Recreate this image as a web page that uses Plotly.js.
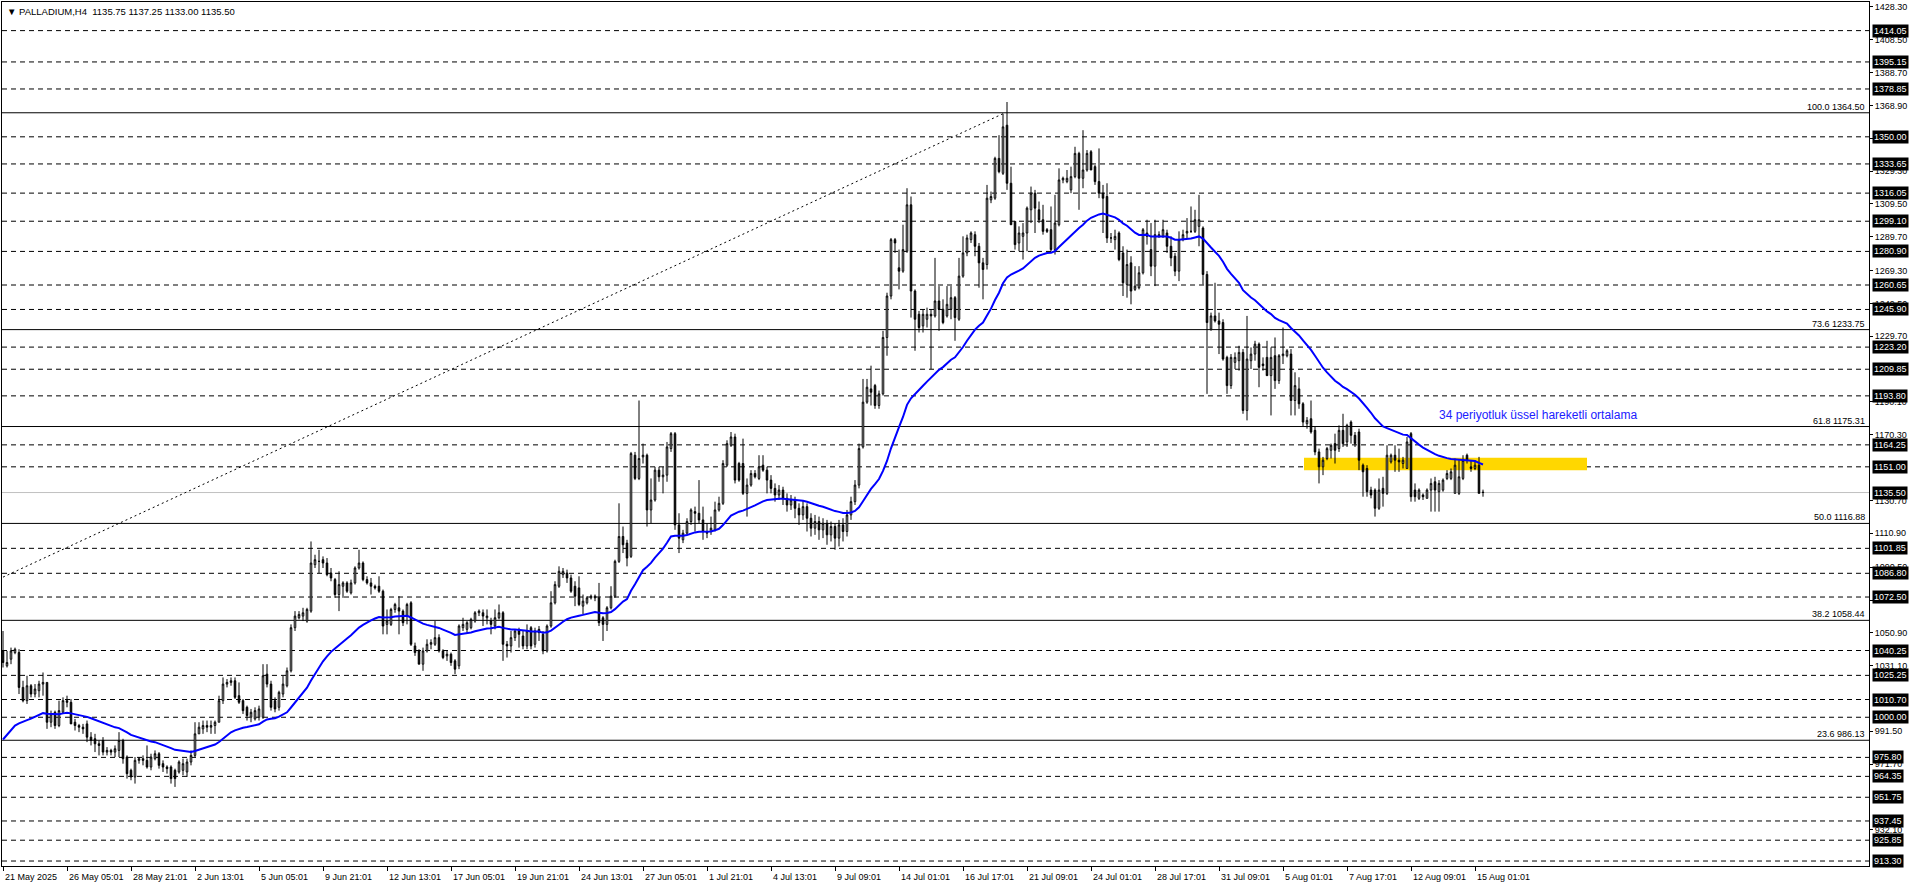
<!DOCTYPE html>
<html><head><meta charset="utf-8">
<script src="https://cdn.plot.ly/plotly-3.0.1.min.js"></script>
<style>html,body{margin:0;padding:0;background:#fff;overflow:hidden}#chart{width:1916px;height:888px}</style>
</head><body><div id="chart"></div>
<script>
const symbolName = "PALLADIUM,H4";
const O = [
1040,1031,1035,1039,1039,1018,1010,1019,1014,1016,
1020,1021,997,1003,995,1003,1010,1009,997,995,
994,996,988,987,984,986,979,980,979,980,
986,976,968,964,974,975,974,970,975,978,
972,970,970,968,967,968,967,973,977,990,
993,995,994,995,997,1010,1020,1021,1022,1013,
1010,1006,1000,999,1000,1000,1026,1020,1010,1006,
1014,1019,1028,1054,1060,1061,1058,1064,1092,1094,
1095,1093,1087,1083,1074,1079,1081,1075,1081,1090,
1093,1083,1081,1079,1079,1076,1056,1056,1065,1066,
1064,1061,1069,1043,1040,1032,1040,1044,1044,1048,
1040,1037,1038,1034,1031,1054,1053,1054,1058,1063,
1063,1060,1058,1055,1060,1063,1044,1043,1048,1052,
1049,1043,1054,1044,1053,1050,1040,1055,1069,1079,
1086,1087,1084,1079,1078,1067,1069,1072,1073,1072,
1060,1056,1066,1073,1094,1109,1105,1097,1158,1144,
1157,1158,1125,1131,1149,1145,1146,1162,1171,1116,
1107,1111,1118,1124,1123,1119,1112,1112,1113,1125,
1129,1152,1164,1169,1153,1153,1135,1140,1147,1144,
1152,1149,1143,1138,1134,1137,1132,1128,1131,1126,
1122,1127,1120,1114,1118,1113,1117,1110,1115,1108,
1116,1112,1122,1130,1140,1163,1190,1198,1200,1188,
1195,1229,1254,1288,1271,1269,1281,1309,1257,1243,
1236,1240,1243,1242,1251,1246,1242,1246,1253,1240,
1266,1280,1288,1291,1284,1274,1273,1312,1313,1337,
1328,1357,1322,1299,1286,1290,1292,1306,1316,1306,
1300,1294,1294,1282,1297,1324,1323,1318,1326,1340,
1325,1330,1341,1332,1323,1316,1314,1289,1288,1292,
1280,1261,1274,1258,1259,1268,1292,1282,1272,1290,
1290,1292,1284,1278,1269,1288,1292,1293,1293,1296,
1295,1267,1234,1242,1239,1238,1217,1200,1214,1215,
1220,1185,1215,1219,1225,1213,1217,1206,1218,1203,
1218,1218,1219,1191,1198,1189,1177,1180,1173,1160,
1151,1156,1161,1165,1162,1173,1166,1178,1170,1172,
1152,1150,1137,1137,1126,1138,1135,1154,1158,1155,
1153,1150,1171,1137,1132,1134,1132,1137,1142,1136,
1137,1144,1144,1135,1135,1144,1158,1151,1150,1152,1135.75];
const H = [
1052,1040,1042,1042,1041,1022,1025,1020,1020,1022,
1027,1021,1004,1004,1010,1012,1013,1011,999,996,
996,998,991,990,986,988,982,981,983,991,
987,977,969,976,976,977,983,978,980,979,
974,971,971,969,974,975,975,980,997,997,
998,998,998,998,1013,1024,1023,1024,1024,1021,
1011,1007,1005,1006,1007,1032,1032,1022,1012,1016,
1025,1030,1056,1064,1064,1066,1066,1106,1098,1101,
1097,1096,1090,1084,1088,1082,1082,1083,1091,1101,
1094,1085,1084,1080,1085,1077,1065,1066,1069,1073,
1065,1069,1070,1045,1041,1042,1047,1047,1058,1050,
1041,1040,1039,1035,1056,1060,1058,1060,1064,1065,
1065,1065,1060,1065,1068,1064,1046,1052,1053,1054,
1052,1056,1055,1054,1055,1052,1056,1076,1082,1091,
1090,1089,1086,1082,1085,1074,1073,1074,1074,1081,
1061,1067,1079,1095,1129,1115,1107,1160,1160,1191,
1165,1159,1144,1151,1151,1151,1166,1172,1172,1123,
1113,1120,1126,1127,1143,1127,1117,1121,1130,1133,
1155,1167,1172,1171,1154,1168,1144,1149,1149,1158,
1158,1151,1146,1141,1140,1139,1135,1134,1133,1129,
1131,1129,1123,1122,1121,1120,1119,1118,1117,1119,
1120,1125,1133,1143,1165,1204,1204,1212,1201,1197,
1233,1256,1289,1289,1282,1297,1319,1314,1258,1245,
1246,1247,1246,1277,1260,1252,1260,1260,1254,1277,
1290,1291,1293,1293,1286,1277,1321,1317,1338,1351,
1364,1371,1332,1299,1296,1298,1308,1320,1318,1311,
1309,1295,1308,1315,1331,1326,1330,1332,1344,1341,
1354,1342,1342,1333,1343,1321,1322,1292,1294,1293,
1284,1282,1278,1272,1272,1295,1300,1298,1300,1293,
1300,1294,1290,1280,1293,1294,1301,1308,1306,1315,
1296,1269,1244,1262,1244,1240,1218,1219,1220,1224,
1222,1242,1223,1227,1226,1217,1227,1223,1229,1219,
1235,1222,1222,1208,1205,1190,1181,1191,1175,1162,
1157,1163,1165,1171,1176,1183,1177,1179,1172,1174,
1153,1152,1139,1138,1144,1145,1164,1159,1164,1162,
1157,1169,1172,1141,1138,1135,1138,1144,1145,1143,
1144,1149,1150,1156,1155,1158,1159,1155,1155,1157,1137.25];
const L = [
1030,1030,1032,1038,1014,1009,1008,1012,1012,1012,
1013,993,994,993,994,1002,1006,996,992,991,
990,985,983,979,977,977,977,977,976,976,
972,963,962,960,972,971,969,968,974,969,
967,966,960,958,966,965,964,971,976,990,
990,991,990,990,997,1008,1018,1019,1011,1008,
1002,998,997,998,998,999,1018,1004,1003,1004,
1012,1018,1027,1052,1059,1058,1057,1063,1090,1087,
1090,1085,1082,1072,1064,1072,1075,1074,1080,1089,
1082,1080,1074,1077,1075,1050,1050,1055,1063,1050,
1055,1056,1043,1037,1032,1028,1039,1041,1043,1039,
1035,1034,1031,1026,1029,1052,1051,1053,1057,1061,
1055,1056,1050,1053,1059,1034,1036,1039,1046,1042,
1041,1041,1041,1042,1046,1038,1039,1054,1068,1078,
1084,1081,1075,1067,1067,1062,1068,1071,1070,1055,
1046,1052,1065,1072,1093,1099,1091,1096,1143,1143,
1153,1115,1117,1130,1142,1135,1142,1160,1113,1099,
1105,1110,1116,1112,1117,1107,1108,1110,1112,1124,
1128,1151,1163,1141,1142,1134,1121,1139,1144,1143,
1148,1135,1135,1130,1131,1128,1124,1125,1120,1116,
1119,1112,1109,1110,1107,1108,1104,1106,1101,1103,
1106,1109,1119,1128,1138,1162,1189,1188,1186,1186,
1194,1218,1252,1280,1258,1268,1280,1241,1221,1232,
1232,1235,1210,1241,1233,1237,1241,1240,1227,1239,
1265,1278,1286,1278,1259,1252,1270,1310,1312,1328,
1327,1318,1297,1282,1281,1276,1281,1298,1292,1298,
1291,1292,1281,1279,1296,1322,1322,1316,1325,1306,
1319,1329,1330,1321,1313,1292,1286,1286,1282,1275,
1254,1253,1249,1257,1258,1267,1285,1266,1260,1289,
1289,1280,1272,1266,1263,1287,1289,1292,1292,1284,
1261,1195,1233,1238,1219,1215,1195,1198,1210,1209,
1183,1179,1210,1215,1199,1209,1206,1182,1198,1201,
1213,1217,1182,1182,1186,1175,1174,1171,1158,1141,
1146,1155,1156,1153,1160,1163,1163,1165,1163,1149,
1133,1133,1132,1121,1125,1127,1134,1153,1148,1148,
1150,1150,1130,1130,1131,1131,1132,1124,1124,1124,
1136,1143,1143,1135,1134,1143,1153,1148,1149,1135,1133.00];
const C = [
1033,1033,1040,1041,1018,1010,1019,1014,1017,1020,
1021,997,1002,995,1004,1010,1009,996,995,994,
993,988,986,984,983,979,980,979,981,986,
975,966,964,974,975,974,970,976,978,971,
970,969,963,963,973,972,973,977,990,994,
995,994,995,997,1010,1020,1021,1022,1012,1009,
1004,1001,1003,1004,1005,1025,1020,1006,1005,1015,
1020,1028,1054,1061,1062,1063,1065,1093,1095,1094,
1093,1086,1084,1074,1080,1081,1076,1081,1090,1093,
1083,1081,1079,1078,1076,1055,1058,1065,1068,1064,
1057,1068,1044,1039,1032,1040,1044,1045,1048,1040,
1036,1038,1033,1029,1055,1056,1057,1059,1063,1064,
1061,1061,1056,1060,1063,1044,1043,1048,1052,1050,
1043,1052,1043,1052,1051,1040,1055,1069,1080,1088,
1088,1084,1076,1073,1068,1070,1072,1073,1072,1057,
1056,1066,1073,1094,1109,1104,1096,1159,1144,1156,
1158,1125,1131,1149,1145,1146,1163,1171,1116,1108,
1111,1118,1125,1123,1119,1112,1111,1114,1125,1129,
1153,1165,1169,1143,1143,1135,1140,1147,1145,1151,
1149,1143,1138,1134,1137,1132,1128,1131,1126,1122,
1127,1120,1114,1118,1113,1117,1110,1115,1108,1116,
1112,1122,1130,1140,1162,1190,1199,1196,1188,1195,
1229,1254,1288,1286,1269,1282,1309,1257,1240,1235,
1243,1243,1242,1251,1246,1238,1249,1253,1241,1266,
1280,1289,1292,1284,1274,1270,1313,1314,1337,1329,
1356,1322,1297,1285,1292,1292,1307,1316,1307,1300,
1293,1293,1282,1298,1324,1325,1325,1326,1340,1325,
1330,1340,1330,1323,1316,1313,1289,1289,1290,1276,
1262,1273,1257,1260,1268,1294,1290,1272,1291,1291,
1294,1284,1277,1269,1288,1291,1293,1293,1300,1300,
1267,1238,1242,1239,1237,1216,1200,1217,1217,1220,
1185,1216,1219,1225,1211,1212,1206,1217,1203,1218,
1219,1221,1191,1200,1189,1178,1179,1172,1160,1151,
1155,1162,1164,1161,1173,1165,1176,1170,1165,1155,
1148,1136,1134,1126,1137,1135,1158,1158,1155,1154,
1155,1166,1133,1133,1137,1133,1137,1141,1137,1141,
1143,1147,1148,1152,1145,1155,1155,1150,1152,1135,1135.50];

const emaPeriod = 34;
const emaStart = 986.6;
const xTickIdx = [0,16,32,48,64,80,96,112,128,144,160,176,192,208,224,240,256,272,288,304,320,336,352,368];
const xTickText = ["21 May 2025","26 May 05:01","28 May 21:01","2 Jun 13:01","5 Jun 05:01","9 Jun 21:01","12 Jun 13:01","17 Jun 05:01","19 Jun 21:01","24 Jun 13:01","27 Jun 05:01","1 Jul 21:01","4 Jul 13:01","9 Jul 09:01","14 Jul 01:01","16 Jul 17:01","21 Jul 09:01","24 Jul 01:01","28 Jul 17:01","31 Jul 09:01","5 Aug 01:01","7 Aug 17:01","12 Aug 09:01","15 Aug 01:01"];
const yTickVals = [1428.30,1408.50,1388.70,1368.90,1349.10,1329.30,1309.50,1289.70,1269.30,1249.50,1229.70,1190.10,1170.30,1130.70,1110.90,1090.50,1070.70,1050.90,1031.10,991.50,971.70,932.10];
const levelPrices = [1414.05,1395.15,1378.85,1350.00,1333.65,1316.05,1299.10,1280.90,1260.65,1245.90,1223.20,1209.85,1193.80,1164.25,1151.00,1101.85,1086.80,1072.50,1040.25,1025.25,1010.70,1000.00,975.80,964.35,951.75,937.45,925.85,913.30];
const currentPrice = 1135.50;
const fibPct = [100.0,73.6,61.8,50.0,38.2,23.6];
const fibPrices = [1364.50,1233.75,1175.31,1116.88,1058.44,986.13];
const fibTrendBars = [0,250.5];
const fibTrendPrices = [1084.5,1364.5];
const zoneBars = [325.25,396];
const zonePrices = [1149.0,1156.5];
const emaLabel = "34 periyotluk üssel hareketli ortalama";
const emaLabelBar = 358.5, emaLabelPrice = 1182.5;

const FONT = "Liberation Sans, Arial, sans-serif";
const n = C.length;
const X = C.map((_, i) => i);
const k = 2 / (emaPeriod + 1);
const ema = [];
let e = emaStart;
for (let i = 0; i < n; i++) { if (i > 0) e = e + k * (C[i] - e); ema.push(e); }

const traces = [
  {type:'candlestick', x:X, open:O, high:H, low:L, close:C,
   increasing:{line:{color:'#000',width:1}, fillcolor:'#ffffff'},
   decreasing:{line:{color:'#000',width:1}, fillcolor:'#000000'},
   whiskerwidth:0, hoverinfo:'skip', showlegend:false},
  {type:'scatter', mode:'lines', x:X, y:ema, line:{color:'#0000ff', width:2}, hoverinfo:'skip', showlegend:false}
];

const shapes = [];
shapes.push({type:'rect', layer:'below', xref:'x', yref:'y', x0:zoneBars[0], x1:zoneBars[1], y0:zonePrices[0], y1:zonePrices[1], fillcolor:'#ffd700', line:{width:0}});
levelPrices.forEach(p => shapes.push({type:'line', layer:'below', xref:'paper', x0:0, x1:1, yref:'y', y0:p, y1:p, line:{color:'#000', width:1, dash:'5px,4px'}}));
shapes.push({type:'line', layer:'below', xref:'paper', x0:0, x1:1, yref:'y', y0:currentPrice, y1:currentPrice, line:{color:'#c0c0c0', width:1}});
fibPrices.forEach(p => shapes.push({type:'line', layer:'below', xref:'paper', x0:0, x1:1, yref:'y', y0:p, y1:p, line:{color:'#000', width:1}}));
shapes.push({type:'line', layer:'below', xref:'x', yref:'y', x0:fibTrendBars[0], x1:fibTrendBars[1], y0:fibTrendPrices[0], y1:fibTrendPrices[1], line:{color:'#000', width:1, dash:'2px,3px'}});

const annotations = [];
annotations.push({xref:'paper', yref:'paper', x:0, y:1, xanchor:'left', yanchor:'top', xshift:3, yshift:-2, showarrow:false,
  text:'\u25BC ' + symbolName + '\u00a0\u00a0' + [O[n-1],H[n-1],L[n-1],C[n-1]].map(v=>v.toFixed(2)).join(' '),
  font:{family:FONT, size:9.5, color:'#000'}});
xTickIdx.forEach((ix, j) => annotations.push({xref:'x', yref:'paper', x:ix, y:0, xanchor:'left', yanchor:'top', xshift:0, yshift:-4, showarrow:false,
  text:xTickText[j], font:{family:FONT, size:9, color:'#000'}}));
levelPrices.concat([currentPrice]).forEach(p => annotations.push({xref:'paper', yref:'y', x:1, y:p, xanchor:'left', yanchor:'middle', xshift:3, showarrow:false,
  text:p.toFixed(2), bgcolor:'#000', borderpad:1, font:{family:FONT, size:9, color:'#fff'}}));
fibPrices.forEach((p, j) => annotations.push({xref:'paper', yref:'y', x:1, y:p, xanchor:'right', yanchor:'bottom', xshift:-2, yshift:-1, showarrow:false,
  text:fibPct[j].toFixed(1) + ' ' + p.toFixed(2), font:{family:FONT, size:9, color:'#000'}}));
annotations.push({xref:'x', yref:'y', x:emaLabelBar, y:emaLabelPrice, xanchor:'left', yanchor:'middle', showarrow:false,
  text:emaLabel, font:{family:FONT, size:12, color:'#2020ff'}});

const layout = {
  width:1916, height:888, margin:{l:2, r:47, t:2, b:22, pad:0},
  paper_bgcolor:'#fff', plot_bgcolor:'#fff', showlegend:false, boxgap:0.45, dragmode:false,
  xaxis:{range:[-0.25,466.5], rangeslider:{visible:false}, showgrid:false, zeroline:false,
    tickmode:'array', tickvals:xTickIdx, showticklabels:false, ticks:'outside', ticklen:4, tickcolor:'#000',
    showline:true, linecolor:'#000', linewidth:1, mirror:true, fixedrange:true},
  yaxis:{range:[910.3,1431.3], side:'right', showgrid:false, zeroline:false,
    tickmode:'array', tickvals:yTickVals, ticktext:yTickVals.map(v=>v.toFixed(2)),
    ticks:'outside', ticklen:3, tickcolor:'#000', tickfont:{family:FONT, size:9, color:'#000'},
    showline:true, linecolor:'#000', linewidth:1, mirror:true, fixedrange:true},
  shapes:shapes, annotations:annotations
};
Plotly.newPlot('chart', traces, layout, {staticPlot:true, displayModeBar:false});
</script></body></html>
